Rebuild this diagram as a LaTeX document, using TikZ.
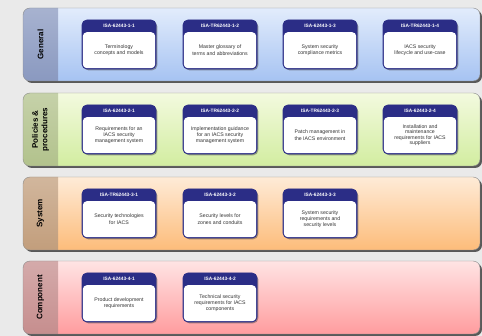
\documentclass[tikz,border=0pt]{standalone}
\usepackage{fontspec}
\setmainfont{Liberation Sans}
\usetikzlibrary{shadows}
\definecolor{navy}{HTML}{2B2D86}
\definecolor{bggray}{HTML}{EAEAEA}
\definecolor{genlab}{HTML}{8A99C0}
\definecolor{gentop}{HTML}{E2ECFC}
\definecolor{genbot}{HTML}{A6C3F2}
\definecolor{pollab}{HTML}{B2C28C}
\definecolor{poltop}{HTML}{F3FADF}
\definecolor{polbot}{HTML}{D2EDA0}
\definecolor{syslab}{HTML}{C29E7C}
\definecolor{systop}{HTML}{FEEBD7}
\definecolor{sysbot}{HTML}{FDBC7A}
\definecolor{comlab}{HTML}{C68E8E}
\definecolor{comtop}{HTML}{FFE4E4}
\definecolor{combot}{HTML}{FF9C9E}
\tikzset{
  docbox/.style={draw=navy, fill=navy, line width=0.8pt, rounded corners=5pt,
    minimum width=74pt, minimum height=49pt, inner sep=0pt,
    drop shadow={shadow xshift=1.3pt, shadow yshift=-1.3pt, fill=black!70}},
  dochead/.style={text=white, font=\bfseries\fontsize{4.8}{5}\selectfont, inner sep=0pt},
  docbody/.style={fill=white, rounded corners=4pt, minimum width=72.4pt,
    minimum height=36pt, inner sep=1pt, align=center, text=black!80,
    font=\fontsize{5.2}{6.3}\selectfont},
  bandlabel/.style={rotate=90, align=center, font=\bfseries\fontsize{8}{9.5}\selectfont}
}
\begin{document}
\begin{tikzpicture}[x=1pt,y=-1pt]
\useasboundingbox[fill=bggray] (0,0) rectangle (482,336);
% the four layers
\foreach \y/\lab/\labcol/\topcol/\botcol/\i in {
    8/{General}/genlab/gentop/genbot/1,
    93/{Policies \&\\procedures}/pollab/poltop/polbot/2,
    177/{System}/syslab/systop/sysbot/3,
    261/{Component}/comlab/comtop/combot/4}{
  \fill[black!65, rounded corners=7pt] (25,\y+2) rectangle (482,\y+75);
  \begin{scope}
    \clip[rounded corners=7pt] (23,\y) rectangle (480,\y+73);
    \shade[top color=\topcol, bottom color=\botcol] (23,\y) rectangle (480,\y+73);
    \shade[top color=\labcol!75!white, bottom color=\labcol] (23,\y) rectangle (58,\y+73);
  \end{scope}
  \draw[black!45, rounded corners=7pt] (23,\y) rectangle (480,\y+73);
  \node[bandlabel] (layer\i) at (40.5,\y+36.5) {\lab};
}

% General
\node[docbox] (g1) at (119,44.5) {};
\node[dochead] (g1h) at ([yshift=-6.5pt]g1.north) {ISA-62443-1-1};
\node[docbody, anchor=south] (g1b) at ([yshift=1pt]g1.south) {Terminology\\concepts and models};
\node[docbox] (g2) at (220,44.5) {};
\node[dochead] (g2h) at ([yshift=-6.5pt]g2.north) {ISA-TR62443-1-2};
\node[docbody, anchor=south] (g2b) at ([yshift=1pt]g2.south) {Master glossary of\\terms and abbreviations};
\node[docbox] (g3) at (320,44.5) {};
\node[dochead] (g3h) at ([yshift=-6.5pt]g3.north) {ISA-62443-1-3};
\node[docbody, anchor=south] (g3b) at ([yshift=1pt]g3.south) {System security\\compliance metrics};
\node[docbox] (g4) at (420,44.5) {};
\node[dochead] (g4h) at ([yshift=-6.5pt]g4.north) {ISA-TR62443-1-4};
\node[docbody, anchor=south] (g4b) at ([yshift=1pt]g4.south) {IACS security\\lifecycle and use-case};

% Policies & procedures
\node[docbox] (p1) at (119,129.5) {};
\node[dochead] (p1h) at ([yshift=-6.5pt]p1.north) {ISA-62443-2-1};
\node[docbody, anchor=south] (p1b) at ([yshift=1pt]p1.south) {Requirements for an\\IACS security\\management system};
\node[docbox] (p2) at (220,129.5) {};
\node[dochead] (p2h) at ([yshift=-6.5pt]p2.north) {ISA-TR62443-2-2};
\node[docbody, anchor=south] (p2b) at ([yshift=1pt]p2.south) {Implementation guidance\\for an IACS security\\management system};
\node[docbox] (p3) at (320,129.5) {};
\node[dochead] (p3h) at ([yshift=-6.5pt]p3.north) {ISA-TR62443-2-3};
\node[docbody, anchor=south] (p3b) at ([yshift=1pt]p3.south) {Patch management in\\the IACS environment};
\node[docbox] (p4) at (420,129.5) {};
\node[dochead] (p4h) at ([yshift=-6.5pt]p4.north) {ISA-62443-2-4};
\node[docbody, anchor=south, font=\fontsize{5.2}{5.6}\selectfont] (p4b) at ([yshift=1pt]p4.south) {Installation and\\maintenance\\requirements for IACS\\suppliers};

% System
\node[docbox] (s1) at (119,213.5) {};
\node[dochead] (s1h) at ([yshift=-6.5pt]s1.north) {ISA-TR62443-3-1};
\node[docbody, anchor=south] (s1b) at ([yshift=1pt]s1.south) {Security technologies\\for IACS};
\node[docbox] (s2) at (220,213.5) {};
\node[dochead] (s2h) at ([yshift=-6.5pt]s2.north) {ISA-62443-3-2};
\node[docbody, anchor=south] (s2b) at ([yshift=1pt]s2.south) {Security levels for\\zones and conduits};
\node[docbox] (s3) at (320,213.5) {};
\node[dochead] (s3h) at ([yshift=-6.5pt]s3.north) {ISA-62443-3-3};
\node[docbody, anchor=south] (s3b) at ([yshift=1pt]s3.south) {System security\\requirements and\\security levels};

% Component
\node[docbox] (c1) at (119,297.5) {};
\node[dochead] (c1h) at ([yshift=-6.5pt]c1.north) {ISA-62443-4-1};
\node[docbody, anchor=south] (c1b) at ([yshift=1pt]c1.south) {Product development\\requirements};
\node[docbox] (c2) at (220,297.5) {};
\node[dochead] (c2h) at ([yshift=-6.5pt]c2.north) {ISA-62443-4-2};
\node[docbody, anchor=south] (c2b) at ([yshift=1pt]c2.south) {Technical security\\requirements for IACS\\components};
\end{tikzpicture}
\end{document}
